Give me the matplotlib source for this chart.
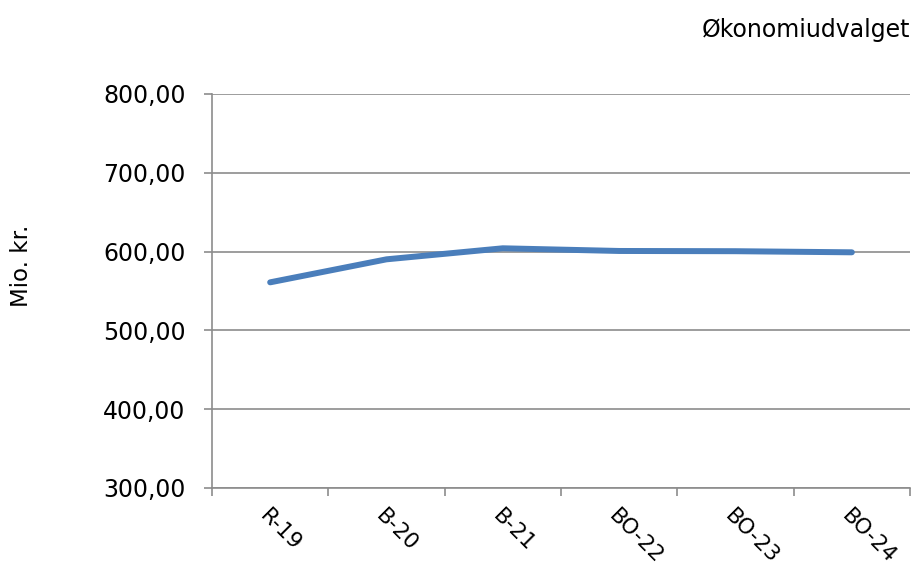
import matplotlib.pyplot as plt
import matplotlib.transforms as mtransforms
import numpy as np

categories = ['R-19', 'B-20', 'B-21', 'BO-22', 'BO-23', 'BO-24']
values = [561.0, 590.2, 604.2, 600.8, 600.5, 599.1]
y_ticks = [300, 400, 500, 600, 700, 800]

plt.rcParams['font.family'] = ['DejaVu Sans']

fig = plt.figure(figsize=(9.16, 5.68), dpi=100)
ax = fig.add_axes([212 / 916, 1 - 488 / 568, (910 - 212) / 916, (488 - 94) / 568])

x = np.arange(len(categories))
ax.plot(x, values, color='#4A7EBB', linewidth=4.3, solid_capstyle='round', zorder=3)

ax.set_xlim(-0.5, len(categories) - 0.5)
ax.set_ylim(300, 800)
ax.set_yticks(y_ticks)
ax.set_yticklabels([f'{v:.2f}'.replace('.', ',') for v in y_ticks], fontsize=17)
ax.yaxis.grid(True, color='#8c8c8c', linewidth=1.2)
ax.set_axisbelow(True)

# category labels between boundary ticks
ax.set_xticks(np.arange(-0.5, len(categories), 1.0))
ax.set_xticklabels([])
ax.set_xticks(x, minor=True)
ax.set_xticklabels(categories, minor=True, rotation=-45, ha='left', va='top',
                   rotation_mode='anchor', fontsize=15.5)
shift = mtransforms.ScaledTranslation(0.08, 0, fig.dpi_scale_trans)
for lbl in ax.get_xticklabels(minor=True):
    lbl.set_transform(lbl.get_transform() + shift)
ax.tick_params(axis='x', which='minor', length=0, pad=13)
ax.tick_params(axis='x', which='major', length=6, color='#8c8c8c', width=1.2)
ax.tick_params(axis='y', length=6, color='#8c8c8c', width=1.2, pad=13)

for side in ['top', 'right']:
    ax.spines[side].set_visible(False)
for side in ['left', 'bottom']:
    ax.spines[side].set_color('#8c8c8c')
    ax.spines[side].set_linewidth(1.2)

fig.text(22 / 916, 1 - 266 / 568, 'Mio. kr.', rotation=90, ha='center', va='center', fontsize=16.5)
fig.text(910 / 916, 1 - 30 / 568, 'Økonomiudvalget', ha='right', va='center', fontsize=17)

fig.savefig('out.png', dpi=100)
